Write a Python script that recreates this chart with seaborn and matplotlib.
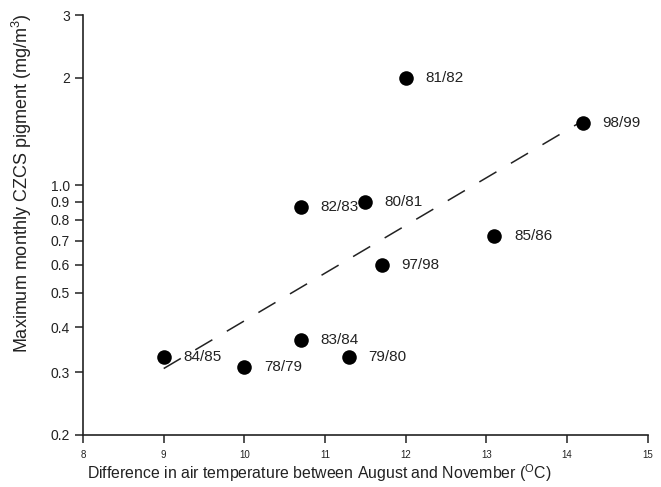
import numpy as np
import pandas as pd
import seaborn as sns
import matplotlib.pyplot as plt
from matplotlib.ticker import FixedLocator, FixedFormatter, NullLocator

# Seasonal air temperature contrast vs. peak CZCS pigment, per year
seasons = ["84/85", "78/79", "83/84", "79/80", "82/83", "80/81", "97/98", "85/86", "81/82", "98/99"]
temp_diff = [9.0, 10.0, 10.7, 11.3, 10.7, 11.5, 11.7, 13.1, 12.0, 14.2]
pigment = [0.33, 0.31, 0.37, 0.33, 0.87, 0.90, 0.60, 0.72, 2.00, 1.50]

y_ticks = [0.2, 0.3, 0.4, 0.5, 0.6, 0.7, 0.8, 0.9, 1.0, 2, 3]
y_tick_labels = ["0.2", "0.3", "0.4", "0.5", "0.6", "0.7", "0.8", "0.9", "1.0", "2", "3"]
x_ticks = [8, 9, 10, 11, 12, 13, 14, 15]

sns.set_theme(style="ticks")
plt.rcParams["font.family"] = ["Liberation Sans", "DejaVu Sans"]
plt.rcParams["mathtext.fontset"] = "custom"
plt.rcParams["mathtext.rm"] = "Liberation Sans"
plt.rcParams["mathtext.it"] = "Liberation Sans"

df = pd.DataFrame({"season": seasons, "dt": temp_diff, "chl": pigment})

fig = plt.figure(figsize=(6.61, 4.87), dpi=100)
ax = fig.add_axes([0.1256, 0.107, 0.8544, 0.862])

# Least-squares fit of log10(pigment) on temperature difference
slope, intercept = np.polyfit(df["dt"], np.log10(df["chl"]), 1)
fit_x = np.array([df["dt"].min(), df["dt"].max()])
fit_df = pd.DataFrame({"dt": fit_x, "chl": 10 ** (intercept + slope * fit_x)})
sns.lineplot(data=fit_df, x="dt", y="chl", ax=ax, color="#222222", lw=1.1,
             dashes=False, zorder=2)
ax.lines[-1].set_dashes((13, 11))

sns.scatterplot(data=df, x="dt", y="chl", ax=ax, color="black", s=110,
                edgecolor="black", linewidth=0, zorder=3)

for _, r in df.iterrows():
    ax.annotate(r["season"], (r["dt"], r["chl"]), xytext=(14, 0),
                textcoords="offset points", va="center", ha="left",
                fontsize=11, color="#222222")

ax.set_yscale("log")
ax.set_xlim(8, 15)
ax.set_ylim(0.2, 3)
ax.yaxis.set_major_locator(FixedLocator(y_ticks))
ax.yaxis.set_major_formatter(FixedFormatter(y_tick_labels))
ax.yaxis.set_minor_locator(NullLocator())
ax.set_xticks(x_ticks)
ax.set_xticklabels([str(v) for v in x_ticks])

ax.tick_params(axis="y", labelsize=10, length=6, width=1.1, colors="#222222", direction="out")
ax.tick_params(axis="x", labelsize=7, length=6, width=1.1, colors="#222222", direction="out", pad=5)

sns.despine(ax=ax)
for sp in ["left", "bottom"]:
    ax.spines[sp].set_linewidth(1.2)
    ax.spines[sp].set_color("#222222")

ax.set_xlabel("Difference in air temperature between August and November ($^{\\mathrm{O}}$C)",
              fontsize=11.4, color="#222222")
ax.xaxis.set_label_coords(0.419, -0.066)
ax.set_ylabel("Maximum monthly CZCS pigment (mg/m$^{3}$)", fontsize=13,
              color="#222222")
ax.yaxis.set_label_coords(-0.087, 0.60)

fig.savefig("out.png", dpi=100)
